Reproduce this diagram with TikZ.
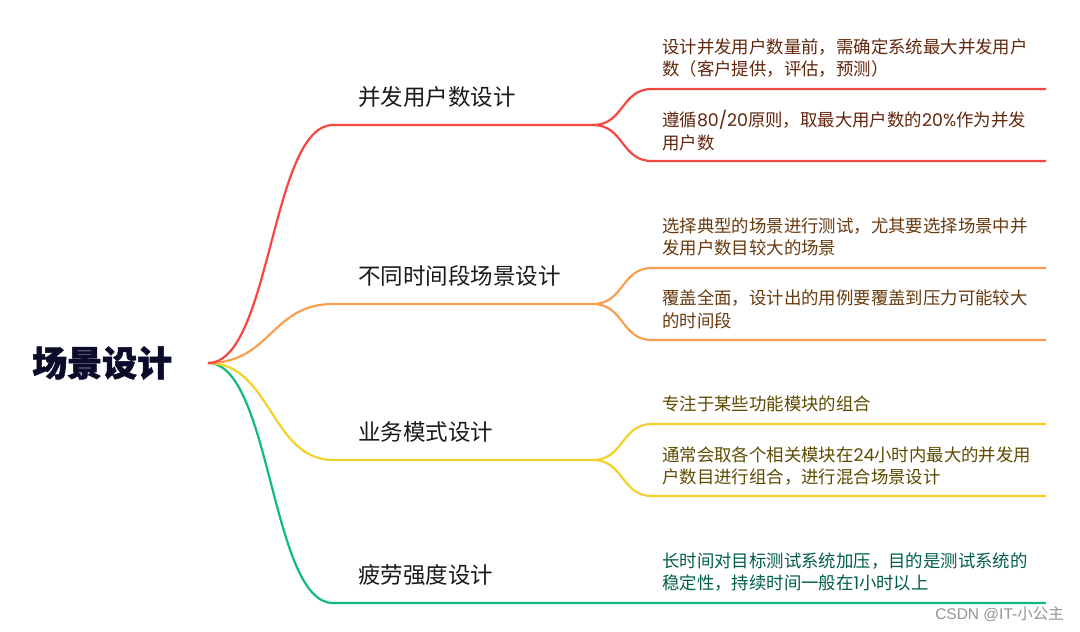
\documentclass[tikz,border=0pt]{standalone}
\usepackage{fontspec}
\newfontfamily\cjk{Noto Sans CJK SC}
\newfontfamily\cjkbold{Noto Sans CJK SC}[FakeBold=1.5]
\newfontfamily\wmlatin{Liberation Sans}
\newfontfamily\lat{Poppins}
\definecolor{cred}{HTML}{F5473F}
\definecolor{corange}{HTML}{F6A050}
\definecolor{cyellow}{HTML}{F3D12C}
\definecolor{cgreen}{HTML}{14BA7A}
\definecolor{tred}{HTML}{62260C}
\definecolor{torange}{HTML}{683A0E}
\definecolor{tyellow}{HTML}{5E4B00}
\definecolor{tgreen}{HTML}{005E48}
\definecolor{troot}{HTML}{0B0B2A}
\tikzset{
  branch/.style={line width=2.2pt},
  mainlbl/.style={anchor=west,inner sep=0pt,font=\cjk\fontsize{22.5}{27}\selectfont,text=black!90},
  leaflbl/.style={anchor=west,inner sep=0pt,align=left,font=\cjk\fontsize{17.4}{22.5}\selectfont},
}
\begin{document}
\begin{tikzpicture}[x=1pt,y=-1pt]
\useasboundingbox (0,0) rectangle (1080,632);
\fill[white] (0,0) rectangle (1080,632);

% root
\node[anchor=west,inner sep=0pt,font=\cjkbold\bfseries\fontsize{35}{42}\selectfont,text=troot] (root) at (32,363) {场景设计};
\coordinate (r) at (208,363);

% main branch coordinates
\coordinate (a0) at (333,125); \coordinate (a1) at (593,125);
\coordinate (b0) at (333,304); \coordinate (b1) at (593,304);
\coordinate (c0) at (333,460); \coordinate (c1) at (593,460);
\coordinate (d0) at (333,603); \coordinate (d1) at (1046,603);

% leaf coordinates
\coordinate (a2s) at (652,89);  \coordinate (a2e) at (1046,89);
\coordinate (a3s) at (652,161); \coordinate (a3e) at (1046,161);
\coordinate (b2s) at (652,268); \coordinate (b2e) at (1046,268);
\coordinate (b3s) at (652,340); \coordinate (b3e) at (1046,340);
\coordinate (c2s) at (652,424); \coordinate (c2e) at (1046,424);
\coordinate (c3s) at (652,496); \coordinate (c3e) at (1046,496);

% branches from root
\draw[branch,cgreen] (r) .. controls (271,363) and (271,603) .. (d0) -- (d1);
\draw[branch,cyellow] (r) .. controls (271,363) and (271,460) .. (c0) -- (c1);
\draw[branch,corange] (r) .. controls (271,363) and (271,304) .. (b0) -- (b1);
\draw[branch,cred] (r) .. controls (271,363) and (271,125) .. (a0) -- (a1);

% sub-branches
\draw[branch,cred] (a1) .. controls (624,125) and (621,89) .. (a2s) -- (a2e);
\draw[branch,cred] (a1) .. controls (624,125) and (621,161) .. (a3s) -- (a3e);
\draw[branch,corange] (b1) .. controls (624,304) and (621,268) .. (b2s) -- (b2e);
\draw[branch,corange] (b1) .. controls (624,304) and (621,340) .. (b3s) -- (b3e);
\draw[branch,cyellow] (c1) .. controls (624,460) and (621,424) .. (c2s) -- (c2e);
\draw[branch,cyellow] (c1) .. controls (624,460) and (621,496) .. (c3s) -- (c3e);

% main labels
\node[mainlbl] (ma) at (358,97) {并发用户数设计};
\node[mainlbl] (mb) at (358,276) {不同时间段场景设计};
\node[mainlbl] (mc) at (358,432) {业务模式设计};
\node[mainlbl] (md) at (358,575) {疲劳强度设计};

% leaf labels
\node[leaflbl,text=tred] (la1) at (662,58) {设计并发用户数量前，需确定系统最大并发用户\\数（客户提供，评估，预测）};
\node[leaflbl,text=tred] (la2) at (662,130.5) {遵循{\lat 80/20}原则，取最大用户数的{\lat 20\%}作为并发\\用户数};
\node[leaflbl,text=torange] (lb1) at (662,237) {选择典型的场景进行测试，尤其要选择场景中并\\发用户数目较大的场景};
\node[leaflbl,text=torange] (lb2) at (662,309.5) {覆盖全面，设计出的用例要覆盖到压力可能较大\\的时间段};
\node[leaflbl,text=tyellow] (lc1) at (662,404) {专注于某些功能模块的组合};
\node[leaflbl,text=tyellow] (lc2) at (662,466) {通常会取各个相关模块在{\lat 24}小时内最大的并发用\\户数目进行组合，进行混合场景设计};
\node[leaflbl,text=tgreen] (ld1) at (662,572) {长时间对目标测试系统加压，目的是测试系统的\\稳定性，持续时间一般在{\lat 1}小时以上};

% watermark
\node[anchor=east,inner sep=0pt,font=\fontsize{15.5}{18}\selectfont,text=black!42] (wm) at (1064,614) {\wmlatin CSDN @IT-\cjk 小公主};
\end{tikzpicture}
\end{document}
